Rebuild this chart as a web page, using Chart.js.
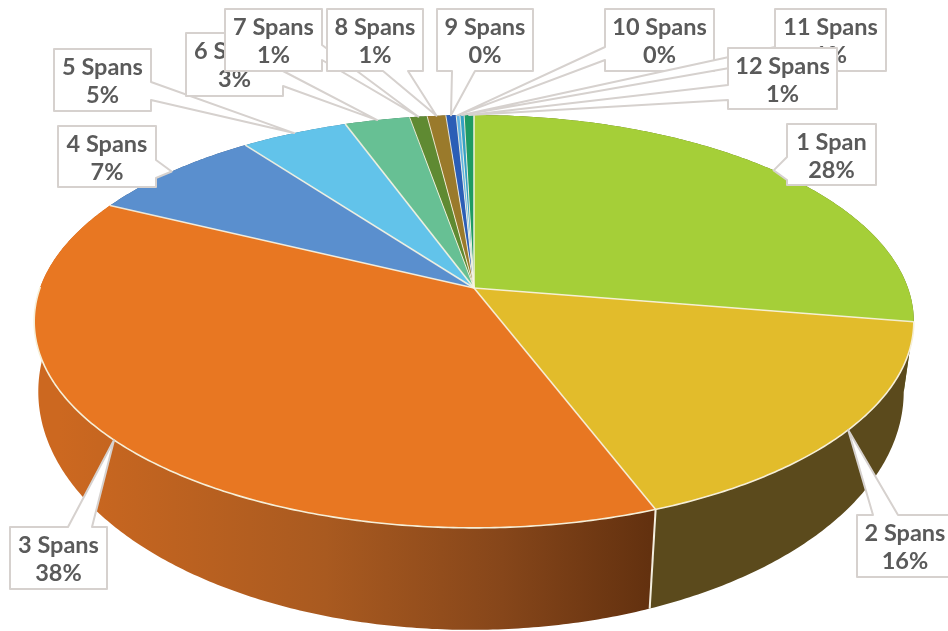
<!DOCTYPE html>
<html>
<head>
<meta charset="utf-8">
<script src="https://cdn.jsdelivr.net/npm/chart.js@4"></script>
<style>
html,body{margin:0;padding:0;background:#fff;overflow:hidden}
canvas{display:block;filter:blur(0.5px)}
</style>
</head>
<body>
<canvas id="c" width="948" height="631"></canvas>
<script>
const categories = ["1 Span","2 Spans","3 Spans","4 Spans","5 Spans","6 Spans","7 Spans","8 Spans","9 Spans","10 Spans","11 Spans","12 Spans"];
const shares = [27.6,16.6,38.0,7.6,4.6,2.8,0.75,0.8,0.44,0.16,0.18,0.42];
const percentLabels = ["28%","16%","38%","7%","5%","3%","1%","1%","0%","0%","1%","1%"];
const topColors = ["#a5cf38","#e2bc2b","#e87722","#5a8fce","#62c3ea","#67c094","#5f8a32","#9a7a2b","#2b5eb6","#62b4e2","#35a0c4","#1f9a62"];
const wallColors = ["#5c6a1c","#5b4a1c","#c8651f","#34557c","#3a7690","#3e7459","#3a541e","#5c4a1a","#1a386e","#3a6c88","#206078","#135e3c"];

// callout layout: box [x,y,w,h], edge carrying the pointer, pointer base span along that edge
const calloutBoxes = [
 [787,124,89,61,"left",157,180],
 [857,515,96,62,"top",873,898],
 [10,527,97,62,"top",68,92],
 [58,126,98,61,"right",160,178],
 [54,49,97,62,"right",82,100],
 [186,33,97,63,"right",71,86],
 [225,9,97,62,"right",45,60],
 [327,9,96,62,"bottom",383,408],
 [437,9,96,62,"bottom",452,475],
 [605,9,109,62,"left",47,60],
 [775,9,111,62,"left",47,60],
 [728,48,109,61,"left",85,100]
];

// projection of the pie disc (perspective view)
const persp = -0.162;
const topFace = {cx:474, cy:288, rx:434, ry:201};
const baseFace = {cx:471, cy:353, rx:427, ry:232};
function project(face, a){
  const c = Math.cos(a), s = Math.sin(a), d = 1 + persp * s;
  return [face.cx + face.rx * c / d, face.cy + face.ry * s / d];
}
function rimPath(ctx, face, a0, a1, move){
  const n = Math.max(2, Math.ceil(Math.abs(a1 - a0) / 0.01));
  for(let i = 0; i <= n; i++){
    const p = project(face, a0 + (a1 - a0) * i / n);
    if(i === 0 && move) ctx.moveTo(p[0], p[1]); else ctx.lineTo(p[0], p[1]);
  }
}

const pie3d = {
  id:"pie3d",
  beforeDatasetsDraw(chart){
    const ctx = chart.ctx, arcs = chart.getDatasetMeta(0).data;
    ctx.save();
    ctx.lineJoin = "round";
    // side wall
    arcs.forEach((arc,i) => {
      let a0 = arc.startAngle, a1 = arc.endAngle;
      ctx.beginPath();
      rimPath(ctx, topFace, a0, a1, true);
      rimPath(ctx, baseFace, a1, a0, false);
      ctx.closePath();
      if(i === 2){
        const g = ctx.createLinearGradient(60,0,650,0);
        g.addColorStop(0,"#cc6820");
        g.addColorStop(0.45,"#a95a20");
        g.addColorStop(0.75,"#86461a");
        g.addColorStop(1,"#63310f");
        ctx.fillStyle = g;
      } else ctx.fillStyle = wallColors[i];
      ctx.fill();
    });
    // wall divider between slice 2 and 3
    const split = arcs[1].endAngle, p0 = project(topFace, split), p1 = project(baseFace, split);
    ctx.strokeStyle = "#f3eee0"; ctx.lineWidth = 2;
    ctx.beginPath(); ctx.moveTo(p0[0],p0[1]); ctx.lineTo(p1[0],p1[1]); ctx.stroke();
    // top face
    arcs.forEach((arc,i) => {
      ctx.beginPath();
      ctx.moveTo(topFace.cx, topFace.cy);
      rimPath(ctx, topFace, arc.startAngle, arc.endAngle, false);
      ctx.closePath();
      ctx.fillStyle = topColors[i];
      ctx.fill();
    });
    arcs.forEach((arc,i) => {
      const p = project(topFace, arc.startAngle);
      ctx.beginPath();
      ctx.moveTo(topFace.cx, topFace.cy); ctx.lineTo(p[0],p[1]);
      ctx.strokeStyle = "rgba(248,244,226,0.9)"; ctx.lineWidth = i>=6 ? 1 : 1.6;
      ctx.stroke();
    });
    // pale rim along the front of the top face
    ctx.beginPath();
    rimPath(ctx, topFace, arcs[1].startAngle, arcs[2].endAngle - 0.45, true);
    ctx.strokeStyle = "#f6efd8"; ctx.lineWidth = 1.6; ctx.stroke();
    // callouts
    arcs.forEach((arc,i) => {
      const tip = project(topFace, (arc.startAngle + arc.endAngle) / 2);
      const [x,y,w,h,edge,u,v] = calloutBoxes[i];
      ctx.beginPath();
      ctx.moveTo(x,y);
      if(edge === "top"){ ctx.lineTo(u,y); ctx.lineTo(tip[0],tip[1]); ctx.lineTo(v,y); }
      ctx.lineTo(x+w,y);
      if(edge === "right"){ ctx.lineTo(x+w,u); ctx.lineTo(tip[0],tip[1]); ctx.lineTo(x+w,v); }
      ctx.lineTo(x+w,y+h);
      if(edge === "bottom"){ ctx.lineTo(v,y+h); ctx.lineTo(tip[0],tip[1]); ctx.lineTo(u,y+h); }
      ctx.lineTo(x,y+h);
      if(edge === "left"){ ctx.lineTo(x,v); ctx.lineTo(tip[0],tip[1]); ctx.lineTo(x,u); }
      ctx.closePath();
      ctx.fillStyle = "#ffffff"; ctx.fill();
      ctx.strokeStyle = "#d6d1ce"; ctx.lineWidth = 2; ctx.stroke();
      ctx.fillStyle = "#5a5a5a";
      ctx.font = "700 23.5px Lato";
      ctx.textAlign = "center"; ctx.textBaseline = "middle";
      const tx = x + w/2;
      ctx.fillText(categories[i], tx, y + 18);
      ctx.fillText(percentLabels[i], tx, y + 46);
    });
    ctx.restore();
    return false;
  }
};

new Chart(document.getElementById("c"), {
  type:"pie",
  data:{labels:categories, datasets:[{data:shares, backgroundColor:topColors}]},
  options:{
    responsive:false,
    animation:false,
    plugins:{legend:{display:false}, tooltip:{enabled:false}}
  },
  plugins:[pie3d]
});
</script>
</body>
</html>
